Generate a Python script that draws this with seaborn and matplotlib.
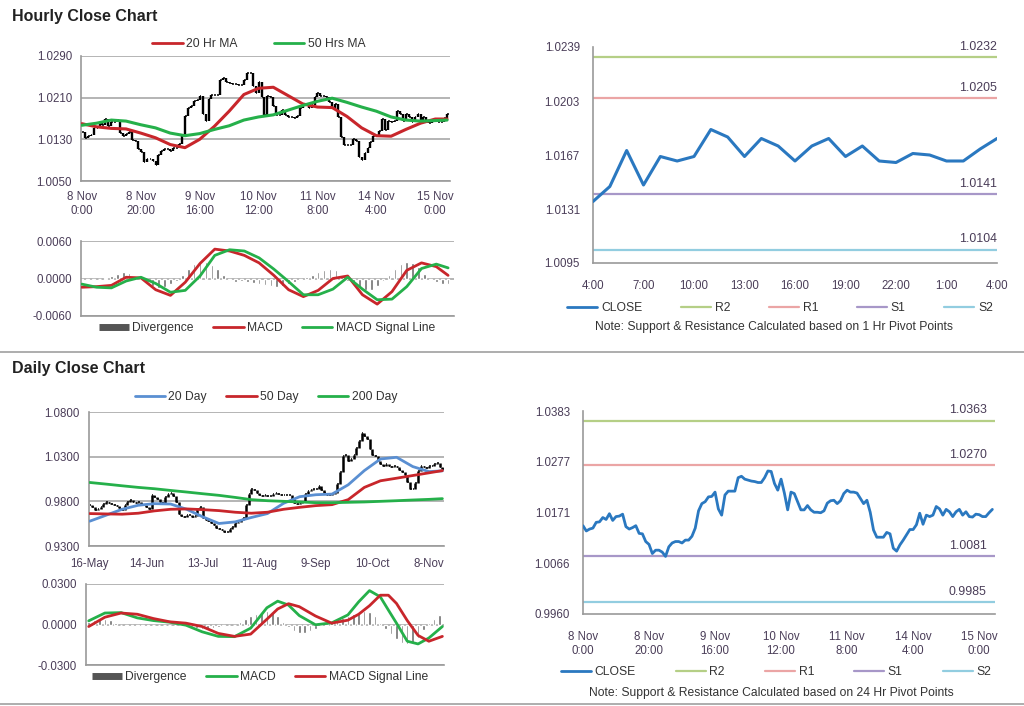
import matplotlib
matplotlib.use("Agg")
import matplotlib.pyplot as plt
from matplotlib.lines import Line2D
import seaborn as sns

# =========================================================
# Data
# =========================================================
# hourly closes, 8 Nov 0:00 -> 15 Nov 4:00 (one value per bar)
hourly_close = [
    1.0144, 1.0133, 1.0137, 1.0139, 1.0151, 1.0152, 1.0161, 1.0157, 1.0169, 1.0155,
    1.0163, 1.0164, 1.0168, 1.0142, 1.0137, 1.0140, 1.0144, 1.0128, 1.0127, 1.0111,
    1.0105, 1.0086, 1.0093, 1.0093, 1.0089, 1.0080, 1.0100, 1.0108, 1.0111, 1.0111,
    1.0108, 1.0114, 1.0114, 1.0122, 1.0139, 1.0175, 1.0190, 1.0194, 1.0204, 1.0205,
    1.0214, 1.0179, 1.0166, 1.0208, 1.0216, 1.0216, 1.0216, 1.0244, 1.0247, 1.0241,
    1.0239, 1.0237, 1.0236, 1.0234, 1.0234, 1.0244, 1.0258, 1.0257, 1.0232, 1.0218,
    1.0241, 1.0212, 1.0177, 1.0214, 1.0211, 1.0194, 1.0177, 1.0177, 1.0186, 1.0177,
    1.0172, 1.0172, 1.0171, 1.0175, 1.0191, 1.0196, 1.0197, 1.0190, 1.0196, 1.0211,
    1.0218, 1.0214, 1.0214, 1.0212, 1.0201, 1.0190, 1.0197, 1.0172, 1.0135, 1.0120,
    1.0120, 1.0120, 1.0130, 1.0127, 1.0097, 1.0091, 1.0104, 1.0114, 1.0125, 1.0136,
    1.0136, 1.0146, 1.0170, 1.0147, 1.0166, 1.0163, 1.0166, 1.0184, 1.0179, 1.0166,
    1.0178, 1.0173, 1.0163, 1.0173, 1.0178, 1.0166, 1.0173, 1.0163, 1.0162, 1.0168,
    1.0167, 1.0163, 1.0163, 1.0171, 1.0178,
]
hourly_ticks = [0, 20, 40, 60, 80, 100, 120]
hourly_labels = ["8 Nov\n0:00", "8 Nov\n20:00", "9 Nov\n16:00", "10 Nov\n12:00",
                 "11 Nov\n8:00", "14 Nov\n4:00", "15 Nov\n0:00"]

hr_idx = [0, 5, 10, 15, 20, 25, 30, 35, 40, 45, 50, 55, 60, 65, 70, 75, 80, 85,
          90, 95, 100, 105, 110, 115, 120, 124]
ma20_hr = [1.0160, 1.0154, 1.0151, 1.0150, 1.0142, 1.0133, 1.0120, 1.0114, 1.0130,
           1.0155, 1.0184, 1.0216, 1.0228, 1.0230, 1.0214, 1.0198, 1.0192, 1.0191,
           1.0174, 1.0152, 1.0137, 1.0136, 1.0149, 1.0161, 1.0169, 1.0169]
ma50_hr = [1.0157, 1.0161, 1.0167, 1.0165, 1.0158, 1.0152, 1.0142, 1.0137, 1.0141,
           1.0149, 1.0156, 1.0167, 1.0173, 1.0177, 1.0186, 1.0195, 1.0203, 1.0209,
           1.0201, 1.0192, 1.0184, 1.0173, 1.0167, 1.0165, 1.0166, 1.0167]
macd_hr = [-0.0014, -0.0013, -0.0011, 0.0002, 0.0001, -0.0018, -0.0027, -0.0006,
           0.0024, 0.0047, 0.0044, 0.0037, 0.0025, 0.0005, -0.0018, -0.0029, -0.0019,
           0.0000, 0.0004, -0.0026, -0.0041, -0.0021, 0.0013, 0.0025, 0.0019, 0.0005]
signal_hr = [-0.0009, -0.0014, -0.0015, -0.0004, 0.0002, -0.0008, -0.0022, -0.0019,
             0.0004, 0.0037, 0.0046, 0.0044, 0.0033, 0.0015, -0.0005, -0.0026, -0.0026,
             -0.0017, 0.0002, -0.0017, -0.0034, -0.0033, -0.0013, 0.0016, 0.0023, 0.0017]
div_hr_idx = list(range(0, 125, 2))
div_hr = [-0.0002, -0.0003, -0.0002, -0.0001, 0.0001, 0.0004, 0.0008, 0.0010, 0.0009,
          0.0002, -0.0003, -0.0008, -0.0012, -0.0015, -0.0014, -0.0009, -0.0004, 0.0005,
          0.0015, 0.0024, 0.0028, 0.0027, 0.0022, 0.0015, 0.0006, -0.0003, -0.0005,
          -0.0004, -0.0005, -0.0007, -0.0008, -0.0010, -0.0012, -0.0013, -0.0012,
          -0.0009, -0.0005, -0.0002, 0.0002, 0.0006, 0.0010, 0.0014, 0.0016, 0.0013,
          0.0005, -0.0004, -0.0010, -0.0015, -0.0019, -0.0018, -0.0012, -0.0004, 0.0006,
          0.0015, 0.0023, 0.0026, 0.0025, 0.0018, 0.0008, -0.0002, -0.0005, -0.0008,
          -0.0009]

# last 24 hours (1 Hr pivots)
last24_ticks = [0, 3, 6, 9, 12, 15, 18, 21, 24]
last24_labels = ["4:00", "7:00", "10:00", "13:00", "16:00", "19:00", "22:00", "1:00", "4:00"]
last24_close = [1.0136, 1.0146, 1.0170, 1.0147, 1.0166, 1.0163, 1.0166, 1.0184, 1.0179,
                1.0166, 1.0178, 1.0173, 1.0163, 1.0173, 1.0178, 1.0166, 1.0173, 1.0163,
                1.0162, 1.0168, 1.0167, 1.0163, 1.0163, 1.0171, 1.0178]
pivot_names = ["R2", "R1", "S1", "S2"]
pivot_colors = ["#b5cf86", "#eba5a5", "#a797c8", "#92cde0"]
pivots_1h = [1.0232, 1.0205, 1.0141, 1.0104]
pivots_24h = [1.0363, 1.0270, 1.0081, 0.9985]

# daily closes, 16-May -> 15-Nov
daily_close = [
    0.9756, 0.9737, 0.9700, 0.9719, 0.9737, 0.9774, 0.9793, 0.9785, 0.9770, 0.9756,
    0.9748, 0.9726, 0.9700, 0.9763, 0.9793, 0.9811, 0.9793, 0.9785, 0.9793, 0.9774,
    0.9756, 0.9737, 0.9711, 0.9874, 0.9848, 0.9822, 0.9793, 0.9785, 0.9848, 0.9885,
    0.9896, 0.9859, 0.9793, 0.9663, 0.9637, 0.9626, 0.9644, 0.9644, 0.9626, 0.9633,
    0.9719, 0.9737, 0.9615, 0.9589, 0.9578, 0.9563, 0.9533, 0.9496, 0.9489, 0.9474,
    0.9459, 0.9452, 0.9489, 0.9515, 0.9552, 0.9570, 0.9589, 0.9615, 0.9756, 0.9885,
    0.9941, 0.9922, 0.9896, 0.9874, 0.9859, 0.9867, 0.9859, 0.9859, 0.9885, 0.9896,
    0.9881, 0.9867, 0.9867, 0.9874, 0.9874, 0.9830, 0.9785, 0.9774, 0.9781, 0.9793,
    0.9885, 0.9911, 0.9922, 0.9933, 0.9941, 0.9970, 0.9922, 0.9896, 0.9874, 0.9867,
    0.9885, 0.9896, 0.9996, 1.0126, 1.0311, 1.0319, 1.0256, 1.0274, 1.0319, 1.0393,
    1.0478, 1.0570, 1.0526, 1.0496, 1.0385, 1.0319, 1.0304, 1.0256, 1.0219, 1.0200,
    1.0215, 1.0200, 1.0185, 1.0193, 1.0181, 1.0156, 1.0126, 1.0096, 1.0015, 0.9941,
    0.9933, 1.0007, 1.0144, 1.0193, 1.0181, 1.0170, 1.0193, 1.0200, 1.0219, 1.0230,
    1.0181, 1.0163,
]
daily_ticks = [0, 21, 42, 63, 84, 105, 126]
daily_labels = ["16-May", "14-Jun", "13-Jul", "11-Aug", "9-Sep", "10-Oct", "8-Nov"]

d_ma_idx = [0, 6, 12, 18, 24, 30, 36, 42, 48, 54, 60, 66, 72, 78, 84, 90, 96, 102,
            108, 114, 120, 126, 131]
ma20_day = [0.9578, 0.9644, 0.9711, 0.9756, 0.9774, 0.9770, 0.9711, 0.9626, 0.9552,
            0.9570, 0.9619, 0.9663, 0.9778, 0.9852, 0.9874, 0.9881, 0.9985, 1.0144,
            1.0274, 1.0293, 1.0189, 1.0133, 1.0141]
ma50_day = [0.9663, 0.9659, 0.9656, 0.9667, 0.9693, 0.9711, 0.9715, 0.9707, 0.9696,
            0.9678, 0.9667, 0.9678, 0.9711, 0.9733, 0.9752, 0.9763, 0.9819, 0.9956,
            1.0030, 1.0059, 1.0089, 1.0119, 1.0144]
ma200_day = [1.0011, 0.9993, 0.9974, 0.9956, 0.9941, 0.9922, 0.9904, 0.9885, 0.9867,
             0.9844, 0.9819, 0.9807, 0.9800, 0.9793, 0.9785, 0.9785, 0.9789, 0.9793,
             0.9800, 0.9807, 0.9815, 0.9822, 0.9830]

d_macd_idx = [0, 6, 12, 18, 24, 30, 36, 42, 48, 54, 60, 66, 70, 74, 78, 84, 90, 96,
              100, 104, 108, 111, 114, 118, 122, 126, 131]
macd_day = [0.0027, 0.0085, 0.0088, 0.0049, 0.0029, 0.0017, -0.0005, -0.0054, -0.0088,
            -0.0090, -0.0027, 0.0124, 0.0173, 0.0144, 0.0066, -0.0002, 0.0012, 0.0071,
            0.0168, 0.0251, 0.0205, 0.0107, 0.0010, -0.0124, -0.0144, -0.0100, -0.0015]
signal_day = [-0.0015, 0.0054, 0.0085, 0.0076, 0.0044, 0.0020, 0.0010, -0.0015, -0.0066,
              -0.0088, -0.0071, 0.0039, 0.0115, 0.0154, 0.0132, 0.0063, 0.0010, 0.0032,
              0.0076, 0.0139, 0.0217, 0.0217, 0.0156, 0.0029, -0.0081, -0.0124, -0.0088]
div_day_idx = list(range(0, 131, 2))
div_day = [0.0015, 0.0035, 0.0045, 0.0040, 0.0030, 0.0010, -0.0005, -0.0010, -0.0012,
           -0.0012, -0.0010, -0.0008, -0.0005, -0.0003, -0.0002, 0.0000, 0.0000, -0.0005,
           -0.0012, -0.0020, -0.0028, -0.0033, -0.0030, -0.0025, -0.0018, -0.0010,
           -0.0004, 0.0000, 0.0020, 0.0040, 0.0060, 0.0080, 0.0095, 0.0100, 0.0090,
           0.0060, 0.0020, -0.0020, -0.0045, -0.0060, -0.0060, -0.0050, -0.0035, -0.0010,
           0.0010, 0.0020, 0.0030, 0.0045, 0.0060, 0.0075, 0.0090, 0.0100, 0.0090,
           0.0060, 0.0010, -0.0030, -0.0070, -0.0110, -0.0135, -0.0145, -0.0140, -0.0100,
           -0.0040, 0.0010, 0.0040, 0.0070]

# =========================================================
# Style
# =========================================================
sns.set_style("white")
plt.rcParams['font.family'] = ['Liberation Sans', 'DejaVu Sans']

RED = "#c8262b"
GREEN = "#25b04a"
BLUE = "#5a8fd2"
CLOSE_BLUE = "#2a78c0"
BAR_GRAY = "#6e6e6e"
AX_GRAY = "#9a9a9a"
GRID_GRAY = "#a8a8a8"
TICK_TXT = "#4a3d58"
TXT = "#333333"
FS = 8.3

W, H = 1024, 706


def box(l, t, r, b):
    return [l / W, 1 - b / H, (r - l) / W, (b - t) / H]


def style_axes(ax, grid=True):
    for s in ["top", "right"]:
        ax.spines[s].set_visible(False)
    for s in ["left", "bottom"]:
        ax.spines[s].set_color(AX_GRAY)
        ax.spines[s].set_linewidth(1.2)
    ax.tick_params(axis="both", colors=AX_GRAY, labelcolor=TICK_TXT,
                   labelsize=FS, length=3.5, width=1, direction="out", pad=3)
    if grid:
        ax.yaxis.grid(True, color=GRID_GRAY, lw=1.2)
        ax.set_axisbelow(True)
    ax.set_xlabel("")
    ax.set_ylabel("")


def price_bars(ax, closes, lw):
    # bar from previous close to close, small close tick on the right
    xs = list(range(1, len(closes)))
    lo = [min(closes[i - 1], closes[i]) for i in xs]
    hi = [max(closes[i - 1], closes[i]) for i in xs]
    ax.vlines(xs, lo, hi, color="black", lw=lw, zorder=2)
    ax.hlines(closes, range(len(closes)), [i + 0.6 for i in range(len(closes))],
              color="black", lw=1.1, zorder=2)


def add_legend(handles, labels, cx, cy, colsp=2.0):
    leg = fig.legend(handles, labels, loc="center", bbox_to_anchor=(cx / W, 1 - cy / H),
                     ncol=len(handles), frameon=False, fontsize=FS + 0.4,
                     handlelength=2.5, handletextpad=0.3, columnspacing=colsp)
    for t in leg.get_texts():
        t.set_color(TXT)
    return leg


def div_handle():
    return Line2D([], [], color="#555555", lw=5, solid_capstyle="butt")


fig = plt.figure(figsize=(W / 100, H / 100), dpi=100)

fig.text(12 / W, 1 - 16 / H, "Hourly Close Chart", fontsize=11.5, fontweight="bold",
         va="center", ha="left", color="#222222")
fig.text(12 / W, 1 - 369 / H, "Daily Close Chart", fontsize=11.5, fontweight="bold",
         va="center", ha="left", color="#222222")
fig.add_artist(Line2D([0, 1], [1 - 352 / H] * 2, color="#a0a0a0", lw=1.2))
fig.add_artist(Line2D([0, 1], [1 - 704 / H] * 2, color="#a0a0a0", lw=1.2))

# ------------------ Hourly price ------------------
ax1 = fig.add_axes(box(81, 56, 450, 181))
price_bars(ax1, hourly_close, lw=1.7)
sns.lineplot(x=hr_idx, y=ma20_hr, ax=ax1, color=RED, lw=2.2, zorder=3)
sns.lineplot(x=hr_idx, y=ma50_hr, ax=ax1, color=GREEN, lw=2.2, zorder=3)
ax1.set_xlim(-0.3, 125)
ax1.set_ylim(1.0050, 1.0290)
ax1.set_yticks([1.0050, 1.0130, 1.0210, 1.0290])
ax1.set_yticklabels(["1.0050", "1.0130", "1.0210", "1.0290"])
ax1.set_xticks(hourly_ticks)
ax1.set_xticklabels(hourly_labels)
style_axes(ax1)
ax1.tick_params(axis="x", pad=4)
add_legend([Line2D([], [], color=RED, lw=2), Line2D([], [], color=GREEN, lw=2)],
           ["20 Hr MA", "50 Hrs MA"], 259, 44, colsp=3.0)

# ------------------ Hourly MACD ------------------
ax2 = fig.add_axes(box(81, 241, 454, 316))
ax2.bar(div_hr_idx, div_hr, width=0.9, color=BAR_GRAY, zorder=2)
sns.lineplot(x=hr_idx, y=macd_hr, ax=ax2, color=RED, lw=2, zorder=3)
sns.lineplot(x=hr_idx, y=signal_hr, ax=ax2, color=GREEN, lw=2, zorder=3)
ax2.set_xlim(-0.3, 126)
ax2.set_ylim(-0.006, 0.006)
ax2.set_yticks([-0.006, 0.0, 0.006])
ax2.set_yticklabels(["-0.0060", "0.0000", "0.0060"])
style_axes(ax2)
ax2.set_xticks([])
add_legend([div_handle(), Line2D([], [], color=RED, lw=2),
            Line2D([], [], color=GREEN, lw=2)],
           ["Divergence", "MACD", "MACD Signal Line"], 267, 328, colsp=1.6)

# ------------------ Last 24 hours with 1 Hr pivots ------------------
ax3 = fig.add_axes(box(593, 47, 997, 263))
for name, lvl, col in zip(pivot_names, pivots_1h, pivot_colors):
    ax3.axhline(lvl, color=col, lw=1.6, zorder=1)
    ax3.annotate(f"{lvl:.4f}", xy=(24, lvl), xytext=(0, 3), textcoords="offset points",
                 ha="right", va="bottom", fontsize=FS + 0.6, color=TICK_TXT)
sns.lineplot(x=list(range(len(last24_close))), y=last24_close, ax=ax3,
             color=CLOSE_BLUE, lw=2.2, zorder=3)
ax3.set_xlim(0, 24)
ax3.set_ylim(1.0095, 1.0239)
ax3.set_yticks([1.0095, 1.0131, 1.0167, 1.0203, 1.0239])
ax3.set_yticklabels(["1.0095", "1.0131", "1.0167", "1.0203", "1.0239"])
ax3.set_xticks(last24_ticks)
ax3.set_xticklabels(last24_labels)
style_axes(ax3, grid=False)
ax3.tick_params(axis="x", pad=9)
ax3.tick_params(axis="y", pad=6)
piv_handles = [Line2D([], [], color=CLOSE_BLUE, lw=2)] + \
              [Line2D([], [], color=c, lw=1.6) for c in pivot_colors]
add_legend(piv_handles, ["CLOSE"] + pivot_names, 780, 308, colsp=3.2)
fig.text(774 / W, 1 - 327 / H, "Note: Support & Resistance Calculated based on 1 Hr Pivot Points",
         ha="center", va="center", fontsize=FS + 0.4, color=TXT)

# ------------------ Daily price ------------------
ax4 = fig.add_axes(box(89, 412, 444, 546))
price_bars(ax4, daily_close, lw=1.8)
sns.lineplot(x=d_ma_idx, y=ma20_day, ax=ax4, color=BLUE, lw=2, zorder=3)
sns.lineplot(x=d_ma_idx, y=ma50_day, ax=ax4, color=RED, lw=2, zorder=3)
sns.lineplot(x=d_ma_idx, y=ma200_day, ax=ax4, color=GREEN, lw=2, zorder=3)
ax4.set_xlim(-0.3, 131.6)
ax4.set_ylim(0.93, 1.08)
ax4.set_yticks([0.93, 0.98, 1.03, 1.08])
ax4.set_yticklabels(["0.9300", "0.9800", "1.0300", "1.0800"])
ax4.set_xticks(daily_ticks)
ax4.set_xticklabels(daily_labels)
style_axes(ax4)
ax4.tick_params(axis="x", pad=5)
add_legend([Line2D([], [], color=BLUE, lw=2), Line2D([], [], color=RED, lw=2),
            Line2D([], [], color=GREEN, lw=2)],
           ["20 Day", "50 Day", "200 Day"], 266, 397, colsp=1.6)

# ------------------ Daily MACD ------------------
ax5 = fig.add_axes(box(86, 584, 444, 665))
ax5.bar(div_day_idx, div_day, width=0.9, color=BAR_GRAY, zorder=2)
sns.lineplot(x=d_macd_idx, y=macd_day, ax=ax5, color=GREEN, lw=2, zorder=3)
sns.lineplot(x=d_macd_idx, y=signal_day, ax=ax5, color=RED, lw=2, zorder=3)
ax5.set_xlim(-1.0, 131.6)
ax5.set_ylim(-0.03, 0.03)
ax5.set_yticks([-0.03, 0.0, 0.03])
ax5.set_yticklabels(["-0.0300", "0.0000", "0.0300"])
style_axes(ax5)
ax5.set_xticks([])
add_legend([div_handle(), Line2D([], [], color=GREEN, lw=2),
            Line2D([], [], color=RED, lw=2)],
           ["Divergence", "MACD", "MACD Signal Line"], 260, 677, colsp=1.6)

# ------------------ Hourly closes with 24 Hr pivots ------------------
ax6 = fig.add_axes(box(583, 411, 995, 614))
for name, lvl, col in zip(pivot_names, pivots_24h, pivot_colors):
    ax6.axhline(lvl, color=col, lw=1.6, zorder=1)
    ax6.annotate(f"{lvl:.4f}", xy=(124.8, lvl), xytext=(-6, 3), textcoords="offset points",
                 ha="right", va="bottom", fontsize=FS + 0.6, color=TICK_TXT)
sns.lineplot(x=list(range(len(hourly_close))), y=hourly_close, ax=ax6,
             color=CLOSE_BLUE, lw=2.0, zorder=3)
ax6.set_xlim(0, 124.8)
ax6.set_ylim(0.9960, 1.0383)
ax6.set_yticks([0.9960, 1.0066, 1.0171, 1.0277, 1.0383])
ax6.set_yticklabels(["0.9960", "1.0066", "1.0171", "1.0277", "1.0383"])
ax6.set_xticks(hourly_ticks)
ax6.set_xticklabels(hourly_labels)
style_axes(ax6, grid=False)
ax6.tick_params(axis="x", pad=9)
ax6.tick_params(axis="y", pad=6)
add_legend(piv_handles, ["CLOSE"] + pivot_names, 776, 672, colsp=3.3)
fig.text(771 / W, 1 - 693 / H, "Note: Support & Resistance Calculated based on 24 Hr Pivot Points",
         ha="center", va="center", fontsize=FS + 0.4, color=TXT)

fig.savefig("out.png", dpi=100)
plt.close(fig)
